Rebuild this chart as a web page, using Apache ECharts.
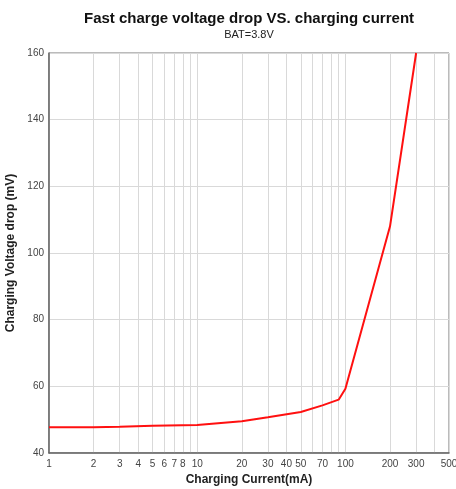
<!DOCTYPE html>
<html>
<head>
<meta charset="utf-8">
<script src="https://cdn.jsdelivr.net/npm/echarts@6/dist/echarts.min.js"></script>
<style>html,body{margin:0;padding:0;background:#fff}#c{width:456px;height:489px}</style>
</head>
<body>
<div id="c"></div>
<script>
const titleText = 'Fast charge voltage drop VS. charging current';
const subtitleText = 'BAT=3.8V';
const xName = 'Charging Current(mA)';
const yName = 'Charging Voltage drop (mV)';
const currents = [1, 2, 3, 5, 10, 20, 30, 50, 70, 90, 100, 200, 300];
const drops = [47.7, 47.7, 47.9, 48.2, 48.4, 49.5, 50.7, 52.3, 54.3, 56.0, 59.3, 108, 160];
const xGridValues = [1,2,3,4,5,6,7,8,9,10,20,30,40,50,60,70,80,90,100,200,300,400,500];
const xLabelValues = [1,2,3,4,5,6,7,8,10,20,30,40,50,70,100,200,300,500];
const yMin = 40, yMax = 160, yStep = 20;

const chart = echarts.init(document.getElementById('c'), null, {renderer: 'canvas'});
const font = 'Liberation Sans, Arial, sans-serif';
chart.setOption({
  animation: false,
  backgroundColor: '#fff',
  title: {
    text: titleText,
    subtext: subtitleText,
    left: 244, top: 6, textAlign: 'center',
    itemGap: 3,
    textStyle: {fontFamily: font, fontSize: 15, fontWeight: 'bold', color: '#111'},
    subtextStyle: {fontFamily: font, fontSize: 11, color: '#222'}
  },
  grid: {left: 49, right: 7, top: 53, bottom: 36, show: true, borderColor: '#777', borderWidth: 1,
    containLabel: false, outerBoundsMode: 'none'},
  xAxis: {
    type: 'log', logBase: 10, min: 1, max: 500,
    name: xName, nameLocation: 'middle', nameGap: 21,
    nameTextStyle: {fontFamily: font, fontSize: 12, fontWeight: 'bold', color: '#222'},
    axisLine: {show: true, lineStyle: {color: '#666', width: 1.5}},
    axisTick: {show: false, customValues: xGridValues},
    axisLabel: {customValues: xLabelValues, fontFamily: font, fontSize: 10, color: '#444', margin: 6,
      formatter: v => String(Math.round(v))},
    splitLine: {show: true, lineStyle: {color: '#d9d9d9', width: 1}},
    minorTick: {show: false}, minorSplitLine: {show: false}
  },
  yAxis: {
    type: 'value', min: yMin, max: yMax, interval: yStep,
    name: yName, nameLocation: 'middle', nameGap: 30, nameRotate: 90,
    nameTextStyle: {fontFamily: font, fontSize: 12, fontWeight: 'bold', color: '#222'},
    axisLine: {show: true, lineStyle: {color: '#666', width: 1.5}},
    axisTick: {show: false},
    axisLabel: {fontFamily: font, fontSize: 10, color: '#444', margin: 5},
    splitLine: {show: true, lineStyle: {color: '#d9d9d9', width: 1}}
  },
  series: [{
    type: 'line',
    data: currents.map((c, i) => [c, drops[i]]),
    showSymbol: false,
    smooth: false,
    lineStyle: {color: '#ff1010', width: 2},
    clip: true
  }]
});
</script>
</body>
</html>
